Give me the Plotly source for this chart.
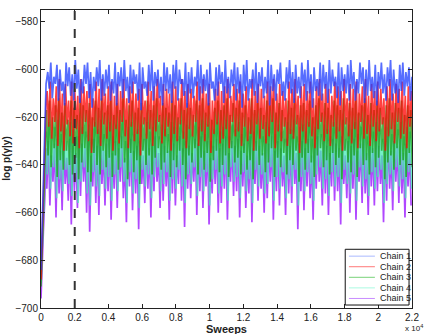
import numpy as np
import plotly.graph_objects as go

# burn-in start of each chain (sweeps 0..300)
burn_sweeps = [0, 60, 140, 220, 300]
burn = {
    'Chain 1': [-684, -668, -645, -622, -606],
    'Chain 2': [-688, -672, -652, -632, -614],
    'Chain 3': [-691, -676, -660, -642, -624],
    'Chain 4': [-689, -674, -662, -648, -632],
    'Chain 5': [-696, -680, -668, -655, -640],
}

# envelope of each chain per column after burn-in (upper / lower)
up1 = [-601,-597,-603,-598,-600,-605,-597,-599,-602,-596,-600,-604,-598,-597,-601,-603,-599,-596,-602,-600,
       -598,-604,-597,-601,-599,-596,-603,-598,-600,-602,-597,-599,-605,-598,-596,-601,-600,-603,-597,-599,
       -602,-598,-596,-600,-604,-597,-601,-599,-603,-596,-598,-602,-600,-597,-605,-599,-598,-601,-596,-603,
       -600,-597,-599,-602,-598,-596,-604,-600,-597,-601,-599,-603,-596,-598,-602,-600,-597,-605,-599,-596,
       -601,-598,-603,-597,-600,-596,-602,-599,-604,-597,-598,-601,-596,-600,-603,-597,-599,-602,-598,-596,
       -601,-604,-597,-599,-600,-596,-603,-598,-601,-597,-602,-599,-596,-600,-604,-598,-597,-601,-599,-603]
lo1 = [-608,-612,-606,-613,-609,-615,-607,-611,-613,-608,-614,-610,-606,-612,-616,-609,-607,-613,-611,-608,
       -613,-610,-615,-607,-612,-609,-614,-610,-606,-613,-617,-608,-611,-609,-613,-607,-612,-615,-609,-610,
       -614,-608,-613,-606,-611,-616,-610,-612,-607,-613,-610,-609,-615,-608,-613,-611,-606,-614,-610,-612,
       -607,-613,-610,-616,-609,-613,-608,-611,-614,-607,-612,-610,-615,-609,-613,-606,-611,-613,-608,-610,
       -614,-610,-612,-607,-613,-610,-616,-609,-611,-613,-608,-614,-610,-607,-612,-615,-609,-610,-613,-608,
       -613,-610,-606,-614,-611,-609,-612,-615,-608,-610,-613,-607,-613,-610,-614,-609,-611,-607,-613,-610]

up2 = [-609,-605,-612,-607,-604,-610,-606,-613,-605,-608,-611,-604,-607,-609,-606,-612,-605,-608,-604,-610,
       -607,-605,-611,-606,-609,-604,-612,-607,-605,-610,-608,-606,-613,-605,-609,-607,-604,-611,-606,-608,
       -610,-605,-607,-612,-604,-609,-606,-608,-611,-605,-607,-604,-610,-606,-613,-608,-605,-609,-607,-604,
       -611,-606,-608,-605,-610,-607,-612,-604,-609,-606,-608,-611,-605,-607,-604,-610,-606,-609,-612,-605,
       -608,-604,-611,-607,-606,-609,-605,-612,-607,-604,-610,-606,-608,-611,-605,-607,-609,-604,-612,-606,
       -608,-605,-610,-607,-604,-611,-606,-609,-605,-608,-612,-607,-604,-610,-606,-608,-605,-611,-607,-609]
lo2 = [-624,-629,-622,-632,-626,-634,-623,-628,-631,-625,-633,-627,-622,-630,-635,-624,-627,-632,-623,-629,
       -626,-634,-625,-631,-622,-628,-633,-624,-630,-627,-636,-623,-629,-625,-632,-626,-622,-631,-628,-624,
       -634,-627,-630,-623,-629,-633,-625,-628,-622,-632,-626,-630,-624,-635,-627,-623,-631,-629,-625,-633,
       -622,-628,-626,-632,-624,-630,-627,-634,-623,-629,-625,-631,-628,-622,-633,-626,-630,-624,-632,-627,
       -629,-623,-635,-626,-631,-624,-628,-633,-625,-622,-630,-627,-632,-624,-629,-626,-634,-623,-628,-631,
       -625,-633,-622,-629,-627,-632,-624,-630,-626,-623,-634,-628,-625,-631,-622,-629,-627,-633,-624,-630]

up3 = [-617,-613,-620,-615,-612,-618,-614,-621,-613,-616,-619,-612,-615,-617,-614,-620,-613,-616,-612,-618,
       -615,-613,-619,-614,-617,-612,-621,-615,-613,-618,-616,-614,-620,-613,-617,-615,-612,-619,-614,-616,
       -618,-613,-615,-620,-612,-617,-614,-616,-619,-613,-615,-612,-618,-614,-621,-616,-613,-617,-615,-612,
       -619,-614,-616,-613,-618,-615,-620,-612,-617,-614,-616,-619,-613,-615,-612,-618,-614,-617,-620,-613,
       -616,-612,-619,-615,-614,-617,-613,-620,-615,-612,-618,-614,-616,-619,-613,-615,-617,-612,-620,-614,
       -616,-613,-618,-615,-612,-619,-614,-617,-613,-616,-620,-615,-612,-618,-614,-616,-613,-619,-615,-617]
lo3 = [-636,-641,-633,-645,-638,-642,-634,-640,-644,-637,-646,-639,-633,-643,-647,-635,-640,-644,-634,-641,
       -637,-645,-636,-642,-633,-639,-646,-635,-643,-638,-648,-634,-640,-636,-644,-637,-633,-642,-639,-635,
       -645,-638,-641,-634,-640,-646,-636,-639,-633,-644,-637,-642,-635,-647,-638,-634,-643,-640,-636,-645,
       -633,-639,-637,-644,-635,-642,-638,-646,-634,-640,-636,-643,-639,-633,-645,-637,-641,-635,-644,-638,
       -640,-634,-647,-637,-642,-635,-639,-645,-636,-633,-641,-638,-644,-635,-640,-637,-646,-634,-639,-643,
       -636,-645,-633,-640,-638,-644,-635,-641,-637,-634,-646,-639,-636,-642,-633,-640,-638,-645,-635,-641]

up4 = [-626,-622,-629,-624,-621,-627,-623,-630,-622,-625,-628,-621,-624,-626,-623,-629,-622,-625,-621,-627,
       -624,-622,-628,-623,-626,-621,-630,-624,-622,-627,-625,-623,-629,-622,-626,-624,-621,-628,-623,-625,
       -627,-622,-624,-629,-621,-626,-623,-625,-628,-622,-624,-621,-627,-623,-630,-625,-622,-626,-624,-621,
       -628,-623,-625,-622,-627,-624,-629,-621,-626,-623,-625,-628,-622,-624,-621,-627,-623,-626,-629,-622,
       -625,-621,-628,-624,-623,-626,-622,-629,-624,-621,-627,-623,-625,-628,-622,-624,-626,-621,-629,-623,
       -625,-622,-627,-624,-621,-628,-623,-626,-622,-625,-629,-624,-621,-627,-623,-625,-622,-628,-624,-626]
lo4 = [-644,-650,-641,-654,-646,-651,-642,-648,-653,-645,-656,-647,-641,-652,-657,-643,-649,-653,-642,-650,
       -645,-655,-644,-651,-641,-647,-656,-643,-652,-646,-658,-642,-649,-644,-654,-645,-641,-651,-648,-643,
       -655,-646,-650,-642,-649,-656,-644,-648,-641,-653,-645,-651,-643,-657,-646,-642,-652,-649,-644,-655,
       -641,-647,-645,-654,-643,-651,-646,-656,-642,-649,-644,-652,-648,-641,-655,-645,-650,-643,-654,-646,
       -649,-642,-657,-645,-651,-643,-648,-655,-644,-641,-650,-646,-653,-643,-649,-645,-656,-642,-648,-652,
       -644,-655,-641,-649,-646,-653,-643,-650,-645,-642,-656,-648,-644,-651,-641,-649,-646,-654,-643,-650]

up5 = [-633,-630,-636,-631,-629,-634,-630,-637,-629,-632,-635,-628,-631,-633,-630,-636,-629,-632,-628,-634,
       -631,-629,-635,-630,-633,-628,-637,-631,-629,-634,-632,-630,-636,-629,-633,-631,-628,-635,-630,-632,
       -634,-629,-631,-636,-628,-633,-630,-632,-635,-629,-631,-628,-634,-630,-637,-632,-629,-633,-631,-628,
       -635,-630,-632,-629,-634,-631,-636,-628,-633,-630,-632,-635,-629,-631,-628,-634,-630,-633,-636,-629,
       -632,-628,-635,-631,-630,-633,-629,-636,-631,-628,-634,-630,-632,-635,-629,-631,-633,-628,-636,-630,
       -632,-629,-634,-631,-628,-635,-630,-633,-629,-632,-636,-631,-628,-634,-630,-632,-629,-635,-631,-633]
lo5 = [-650,-657,-647,-662,-652,-659,-648,-655,-665,-651,-658,-653,-647,-660,-668,-649,-656,-661,-648,-657,
       -651,-663,-650,-658,-647,-654,-664,-649,-659,-652,-667,-648,-656,-650,-662,-651,-647,-658,-655,-649,
       -663,-652,-657,-648,-655,-666,-650,-654,-647,-661,-651,-658,-649,-665,-652,-648,-660,-656,-650,-663,
       -647,-653,-651,-662,-649,-658,-652,-664,-648,-655,-650,-660,-654,-647,-663,-651,-657,-649,-661,-652,
       -656,-648,-667,-651,-659,-649,-654,-663,-650,-647,-657,-652,-661,-649,-655,-651,-665,-648,-654,-660,
       -650,-663,-647,-656,-652,-661,-649,-657,-651,-648,-664,-655,-650,-659,-647,-656,-652,-662,-649,-657]

burn_in = 2000
names = ['Chain 1', 'Chain 2', 'Chain 3', 'Chain 4', 'Chain 5']
uppers = [up1, up2, up3, up4, up5]
lowers = [lo1, lo2, lo3, lo4, lo5]
colors = ['rgba(30,60,255,0.75)', 'rgba(255,0,0,0.75)', 'rgba(20,160,20,0.75)',
          'rgba(70,235,180,0.75)', 'rgba(150,10,255,0.75)']
legend_colors = ['rgb(170,185,255)', 'rgb(255,120,120)', 'rgb(120,210,120)',
                 'rgb(170,250,225)', 'rgb(200,140,255)']

# sweep positions of the columns: upper value, then lower value half a step later;
# each chain's columns are shifted a little so the chains don't line up
n = len(up1)
step = (22000 - 400) / (n - 1)
half = step / 2

fig = go.Figure()
# chain 5 at the back, chain 1 in front
for k in reversed(range(len(names))):
    cols = np.linspace(400, 22000, n) - k * step / 5
    xs = list(burn_sweeps)
    ys = list(burn[names[k]])
    for x, u, l in zip(cols, uppers[k], lowers[k]):
        xs += [max(x, 320), x + half]
        ys += [u, l]
    fig.add_trace(go.Scatter(x=xs, y=ys, mode='lines', name=names[k],
                             line=dict(color=colors[k], width=1.7), showlegend=False))

axis_style = dict(showline=True, linecolor='#222222', linewidth=1, mirror='ticks',
                  ticks='inside', ticklen=4, tickcolor='#222222', showgrid=False,
                  zeroline=False, tickfont=dict(size=10, color='#222222'))

fig.update_xaxes(range=[0, 22000], tickvals=list(range(0, 22001, 2000)),
                 ticktext=['0', '0.2', '0.4', '0.6', '0.8', '1', '1.2', '1.4', '1.6', '1.8', '2', '2.2'],
                 **axis_style)
fig.update_yaxes(range=[-700, -575], tickvals=list(range(-700, -579, 20)), **axis_style)

# burn-in marker
shapes = [dict(type='line', xref='x', yref='paper', x0=burn_in, x1=burn_in, y0=0, y1=1,
               line=dict(color='#333333', width=2, dash='dash'), opacity=1, layer='above')]

# legend drawn by hand so the rows sit as tight as in the original
shapes.append(dict(type='rect', xref='paper', yref='paper', x0=0.82, x1=0.992, y0=0.01, y1=0.197,
                   line=dict(color='#111111', width=1), fillcolor='white', opacity=1, layer='above'))
annotations = []
for i, (name, c) in enumerate(zip(names, legend_colors)):
    yy = 0.174 - i * 0.0355
    shapes.append(dict(type='line', xref='paper', yref='paper', x0=0.83, x1=0.9,
                       y0=yy, y1=yy, line=dict(color=c, width=1), opacity=1, layer='above'))
    annotations.append(dict(text=name, x=0.908, y=yy, xref='paper', yref='paper',
                            xanchor='left', yanchor='middle', showarrow=False,
                            font=dict(size=9)))

annotations += [
    dict(text='<b>Sweeps</b>', x=0.5, y=-0.071, xref='paper', yref='paper',
         xanchor='center', yanchor='middle', showarrow=False, font=dict(size=11)),
    dict(text='x 10<sup>4</sup>', x=1.035, y=-0.066, xref='paper', yref='paper',
         xanchor='right', yanchor='middle', showarrow=False, font=dict(size=8)),
    dict(text='<b>log p(γ|y)</b>', x=-0.095, y=0.5, xref='paper', yref='paper',
         xanchor='center', yanchor='middle', textangle=-90, showarrow=False,
         font=dict(size=10)),
]

fig.update_layout(
    width=428, height=334,
    showlegend=False,
    margin={'t': 9, 'b': 26, 'l': 41, 'r': 9},
    font=dict(family='Liberation Sans, Arial, sans-serif', size=10, color='#222222'),
    plot_bgcolor='white', paper_bgcolor='white',
    shapes=shapes,
    annotations=annotations,
)

# the page's default body margin would shift the figure by 8px
fig.write_html("out.html", config={'displayModeBar': False},
               post_script="document.body.style.margin='0';")
